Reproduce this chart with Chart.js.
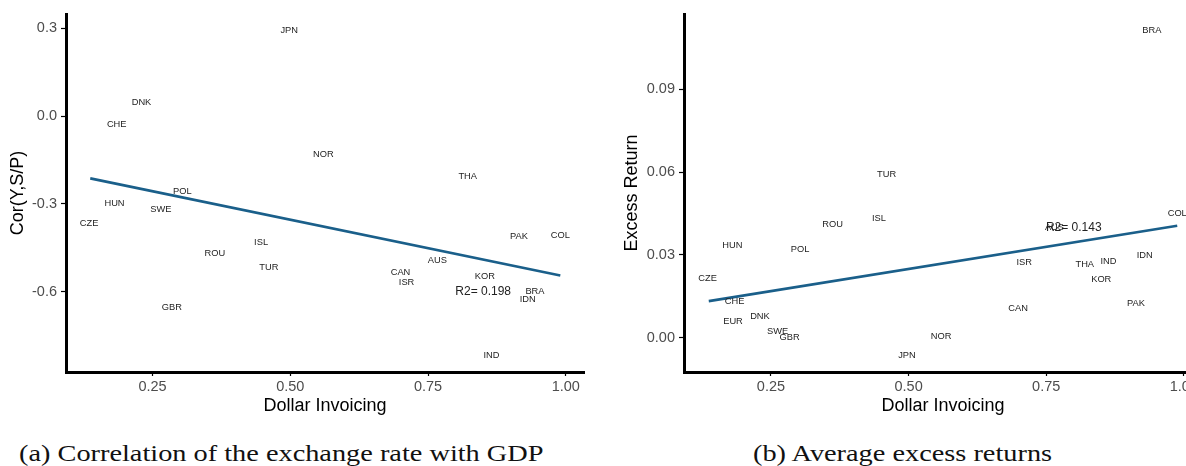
<!DOCTYPE html>
<html>
<head>
<meta charset="utf-8">
<script src="https://cdn.jsdelivr.net/npm/chart.js@4.4.1/dist/chart.umd.min.js"></script>
<style>
  html, body { margin: 0; padding: 0; background: #fff; width: 1186px; height: 466px; overflow: hidden; position: relative; }
  canvas { position: absolute; top: 0; }
  #chartA { left: 0; }
  #chartB { left: 600px; }
  .caption { position: absolute; top: 441px; font-family: "Liberation Serif", "DejaVu Serif", serif; font-size: 24px; line-height: 24px; color: #111; white-space: nowrap; transform-origin: left top; transform: scaleX(1.18); }
</style>
</head>
<body>
<canvas id="chartA" width="600" height="420"></canvas>
<canvas id="chartB" width="610" height="420"></canvas>
<div class="caption" style="left:19px">(a) Correlation of the exchange rate with GDP</div>
<div class="caption" style="left:753px">(b) Average excess returns</div>
<script>
// ---- panel (a): Cor(Y, S/P) vs dollar invoicing share ----
const codesA   = ['JPN','DNK','CHE','NOR','THA','POL','HUN','SWE','CZE','ROU','ISL','TUR','GBR','CAN','ISR','AUS','KOR','PAK','COL','BRA','IDN','IND'];
const invoiceA = [0.498, 0.230, 0.185, 0.560, 0.822, 0.304, 0.181, 0.265, 0.135, 0.363, 0.447, 0.461, 0.285, 0.700, 0.711, 0.767, 0.853, 0.915, 0.990, 0.944, 0.931, 0.865];
const corrA    = [0.292, 0.047, -0.028, -0.130, -0.207, -0.257, -0.297, -0.320, -0.366, -0.468, -0.432, -0.516, -0.653, -0.535, -0.569, -0.494, -0.547, -0.411, -0.408, -0.601, -0.628, -0.819];
const fitXA = [0.137, 0.990];
const fitYA = [-0.213, -0.545];
const r2A = '0.198';
const r2PosA = [0.850, -0.602];
const yTicksA = [-0.6, -0.3, 0.0, 0.3];

// ---- panel (b): average excess return vs dollar invoicing share ----
const codesB   = ['BRA','TUR','ISL','ROU','COL','AUS','HUN','POL','CZE','ISR','THA','IND','IDN','KOR','PAK','CHE','EUR','DNK','SWE','GBR','CAN','NOR','JPN'];
const invoiceB = [0.942, 0.460, 0.446, 0.362, 0.988, 0.765, 0.180, 0.303, 0.135, 0.710, 0.820, 0.863, 0.929, 0.850, 0.913, 0.184, 0.181, 0.230, 0.262, 0.284, 0.699, 0.559, 0.497];
const excessB  = [0.1114, 0.0590, 0.0431, 0.0411, 0.0450, 0.0400, 0.0334, 0.0318, 0.0213, 0.0273, 0.0264, 0.0275, 0.0298, 0.0210, 0.0123, 0.0131, 0.0057, 0.0076, 0.0022, 0.0002, 0.0106, 0.0004, -0.0065];
const fitXB = [0.137, 0.988];
const fitYB = [0.0132, 0.0405];
const r2B = '0.143';
const r2PosB = [0.800, 0.0399];
const yTicksB = [0.00, 0.03, 0.06, 0.09];

const xTicks = [0.25, 0.50, 0.75, 1.00];

const SANS = '"Liberation Sans", Arial, sans-serif';
const LINE_BLUE = '#1a5f8a';

// country codes written at each point, plus the R2 note
const countryLabels = {
  id: 'countryLabels',
  afterDatasetsDraw(chart, args, opts) {
    const ctx = chart.ctx;
    const meta = chart.getDatasetMeta(0);
    ctx.save();
    ctx.fillStyle = '#222';
    ctx.textAlign = 'center';
    ctx.textBaseline = 'middle';
    ctx.font = '9.3px ' + SANS;
    meta.data.forEach((pt, i) => ctx.fillText(opts.codes[i], pt.x, pt.y));
    ctx.font = '12px ' + SANS;
    ctx.fillText('R2= ' + opts.r2,
      chart.scales.x.getPixelForValue(opts.r2Pos[0]),
      chart.scales.y.getPixelForValue(opts.r2Pos[1]));
    ctx.restore();
  }
};

function buildChart(id, cfg) {
  const points = cfg.xs.map((x, i) => ({ x: x, y: cfg.ys[i] }));
  const fit = cfg.fitX.map((x, i) => ({ x: x, y: cfg.fitY[i] }));
  return new Chart(document.getElementById(id), {
    type: 'scatter',
    data: {
      datasets: [
        { data: points, pointRadius: 0, pointHoverRadius: 0 },
        { type: 'line', data: fit, borderColor: LINE_BLUE, borderWidth: 2.6, pointRadius: 0, fill: false }
      ]
    },
    options: {
      responsive: false,
      animation: false,
      events: [],
      layout: { padding: { top: 14, right: cfg.padRight, left: 0, bottom: 0 } },
      plugins: {
        legend: { display: false },
        tooltip: { enabled: false },
        countryLabels: { codes: cfg.codes, r2: cfg.r2, r2Pos: cfg.r2Pos }
      },
      scales: {
        x: {
          type: 'linear',
          min: cfg.xMin, max: cfg.xMax,
          afterBuildTicks: s => { s.ticks = xTicks.map(v => ({ value: v })); },
          afterFit: s => { s.height = 48; },
          ticks: { callback: v => v.toFixed(2), color: '#4d4d4d', font: { family: SANS, size: 14.5 }, padding: 2, maxRotation: 0 },
          grid: { drawOnChartArea: false, drawTicks: true, tickLength: 4, tickWidth: 1.2, color: '#000' },
          border: { display: true, color: '#000', width: 3 },
          title: { display: true, text: 'Dollar Invoicing', color: '#000', font: { family: SANS, size: 18 }, padding: { top: 0, bottom: 3.5 } }
        },
        y: {
          type: 'linear',
          min: cfg.yMin, max: cfg.yMax,
          afterBuildTicks: s => { s.ticks = cfg.yTicks.map(v => ({ value: v })); },
          afterFit: s => { s.width = cfg.yWidth; },
          ticks: { callback: v => v.toFixed(cfg.yDigits), color: '#4d4d4d', font: { family: SANS, size: 14.5 }, padding: 4 },
          grid: { drawOnChartArea: false, drawTicks: true, tickLength: 5, tickWidth: 1.2, color: '#000' },
          border: { display: true, color: '#000', width: 3 },
          title: { display: true, text: cfg.yTitle, color: '#000', font: { family: SANS, size: 18 }, padding: { top: cfg.titlePad, bottom: 0 } }
        }
      }
    },
    plugins: [countryLabels]
  });
}

buildChart('chartA', {
  codes: codesA, xs: invoiceA, ys: corrA, fitX: fitXA, fitY: fitYA,
  r2: r2A, r2Pos: r2PosA, yTicks: yTicksA, yDigits: 1, yTitle: 'Cor(Y,S/P)',
  xMin: 0.093, xMax: 1.033, yMin: -0.875, yMax: 0.349,
  yWidth: 66, padRight: 16, titlePad: 7
});

buildChart('chartB', {
  codes: codesB, xs: invoiceB, ys: excessB, fitX: fitXB, fitY: fitYB,
  r2: r2B, r2Pos: r2PosB, yTicks: yTicksB, yDigits: 2, yTitle: 'Excess Return',
  xMin: 0.092, xMax: 1.033, yMin: -0.0125, yMax: 0.1173,
  yWidth: 84, padRight: 8, titlePad: 21
});
</script>
</body>
</html>
